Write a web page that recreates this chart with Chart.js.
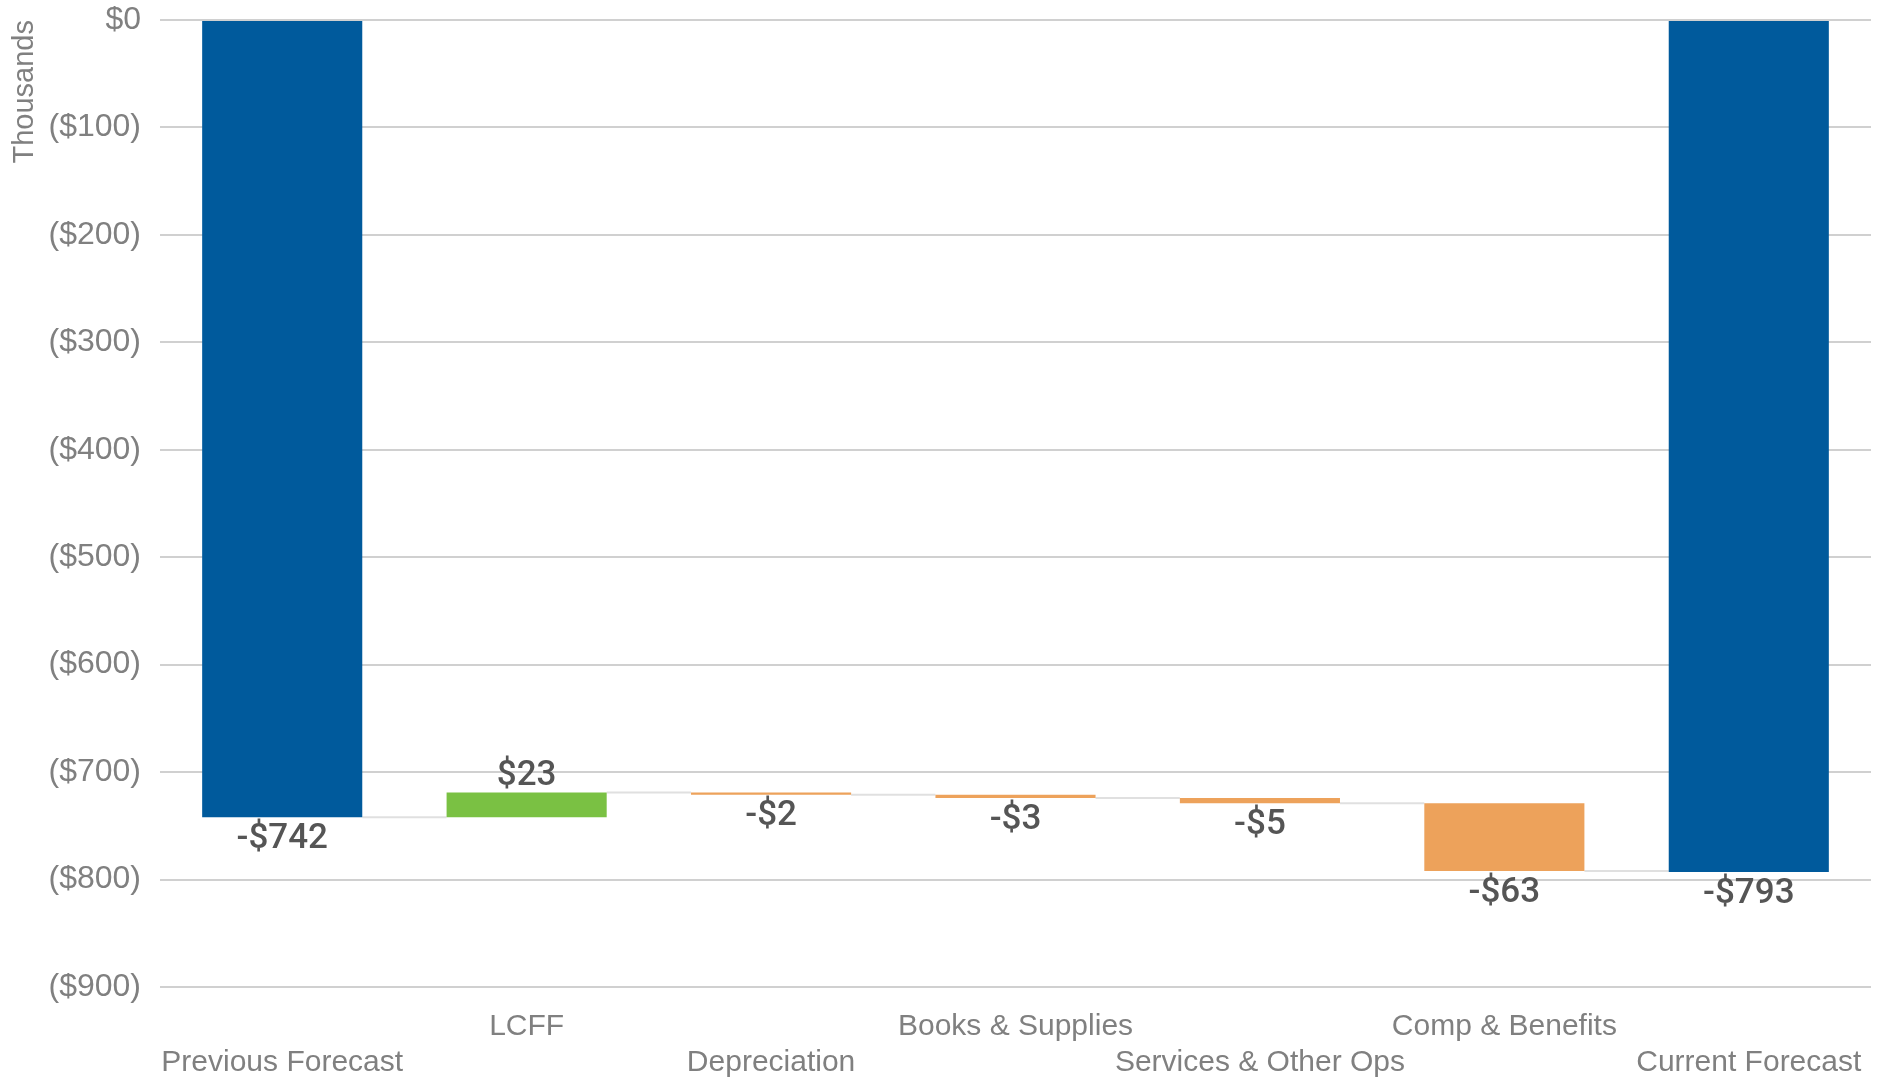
<!DOCTYPE html>
<html>
<head>
<meta charset="utf-8">
<script src="https://cdn.jsdelivr.net/npm/chart.js@4.4.1/dist/chart.umd.min.js"></script>
<style>
  html, body { margin: 0; padding: 0; background: #fff; }
  #wrap { width: 1887px; height: 1081px; }
</style>
</head>
<body>
<div id="wrap"><canvas id="chart" width="1887" height="1081"></canvas></div>
<script>
// Données du graphique (en milliers)
const categories = ['Previous Forecast', 'LCFF', 'Depreciation', 'Books & Supplies', 'Services & Other Ops', 'Comp & Benefits', 'Current Forecast'];
const previousForecast = -742;
const changes = [23, -2, -3, -5, -63];
const currentForecast = -793;
const yMin = -900;
const yMax = 0;
const yStep = 100;

// Couleurs
const blue = '#005A9C';
const green = '#7AC143';
const orange = '#EDA25B';

// Construction des barres flottantes
const ranges = [];
const values = [];
const colors = [];
ranges.push([0, previousForecast]);
values.push(previousForecast);
colors.push(blue);
let running = previousForecast;
changes.forEach(c => {
    ranges.push([running, running + c]);
    values.push(c);
    colors.push(c >= 0 ? green : orange);
    running += c;
});
ranges.push([0, currentForecast]);
values.push(currentForecast);
colors.push(blue);

// étiquettes x décalées sur deux lignes
const xLabels = categories.map((c, i) => i % 2 === 1 ? [c, ''] : ['', c]);

function fmtMoney(v) {
    const a = Math.abs(Math.round(v));
    return (v < 0 ? '-$' : '$') + a;
}

// Lignes de liaison entre les barres
const connectors = {
    id: 'connectors',
    beforeDatasetsDraw(chart) {
        const meta = chart.getDatasetMeta(0);
        const y = chart.scales.y;
        const ctx = chart.ctx;
        ctx.save();
        ctx.strokeStyle = '#e0e0e0';
        ctx.lineWidth = 2;
        for (let i = 0; i < meta.data.length - 1; i++) {
            const a = meta.data[i];
            const b = meta.data[i + 1];
            const py = y.getPixelForValue(ranges[i][1]);
            ctx.beginPath();
            ctx.moveTo(a.x + a.width / 2, py);
            ctx.lineTo(b.x - b.width / 2, py);
            ctx.stroke();
        }
        ctx.restore();
    }
};

// Étiquettes de valeurs
const valueLabels = {
    id: 'valueLabels',
    afterDatasetsDraw(chart) {
        const meta = chart.getDatasetMeta(0);
        const y = chart.scales.y;
        const ctx = chart.ctx;
        ctx.save();
        ctx.font = '500 35px Roboto, "Liberation Sans", sans-serif';
        ctx.fillStyle = '#555555';
        ctx.textAlign = 'center';
        ctx.textBaseline = 'middle';
        meta.data.forEach((bar, i) => {
            const v = values[i];
            const top = y.getPixelForValue(Math.max(ranges[i][0], ranges[i][1]));
            const bottom = y.getPixelForValue(Math.min(ranges[i][0], ranges[i][1]));
            const py = v >= 0 ? top - 16 : bottom + 22;
            ctx.fillText(fmtMoney(v), bar.x, py);
        });
        ctx.restore();
    }
};

const ctx = document.getElementById('chart').getContext('2d');
const chart = new Chart(ctx, {
    type: 'bar',
    data: {
        labels: xLabels,
        datasets: [{
            data: ranges,
            backgroundColor: colors,
            borderWidth: 0,
            categoryPercentage: 1,
            barPercentage: 0.655
        }]
    },
    options: {
        responsive: false,
        animation: false,
        layout: { padding: { top: 20, right: 16, bottom: 2, left: 0 } },
        plugins: {
            legend: { display: false },
            tooltip: { enabled: false }
        },
        scales: {
            x: {
                grid: { display: false },
                border: { display: false },
                ticks: {
                    autoSkip: false,
                    maxRotation: 0,
                    padding: 14,
                    color: '#808080',
                    font: { family: '"Liberation Sans", Arial, sans-serif', size: 30, lineHeight: 1.2 }
                },
                afterFit: s => { s.height = 92; }
            },
            y: {
                min: yMin,
                max: yMax,
                grid: { color: '#d0d0d0', lineWidth: 2, drawTicks: false },
                border: { display: false },
                ticks: {
                    stepSize: yStep,
                    padding: 19,
                    color: '#808080',
                    font: { family: '"Liberation Sans", Arial, sans-serif', size: 32 },
                    callback: v => v < 0 ? '($' + Math.abs(v) + ')' : '$' + v
                },
                title: {
                    display: true,
                    text: 'Thousands',
                    align: 'end',
                    color: '#808080',
                    font: { family: '"Liberation Sans", Arial, sans-serif', size: 29 },
                    padding: { top: 8, bottom: 0 }
                },
                afterFit: s => {
                    s.width = 160;
                    s.paddingTop = 0;
                    s.paddingBottom = 0;
                }
            }
        }
    },
    plugins: [connectors, valueLabels]
});
</script>
</body>
</html>
